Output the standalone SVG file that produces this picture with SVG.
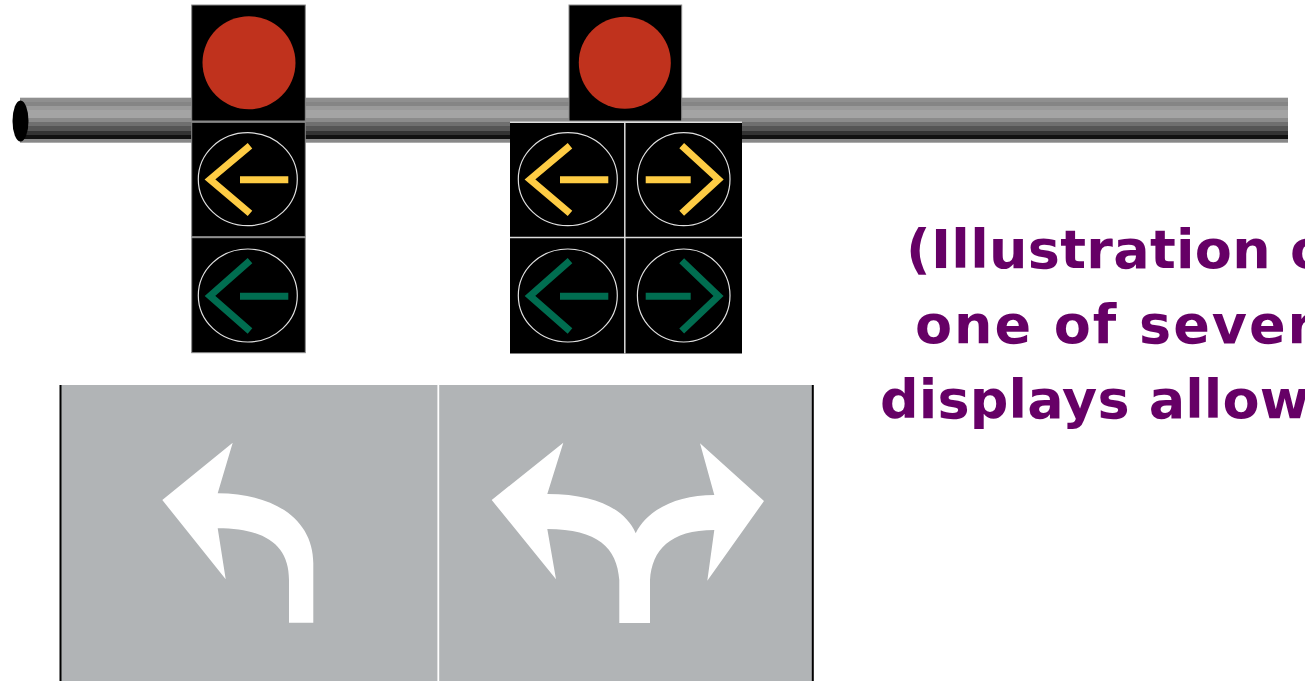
<svg xmlns="http://www.w3.org/2000/svg" width="1305" height="681" viewBox="0 0 1305 681">
  <style>
    .box { fill: #000; stroke: #8a8a8a; stroke-width: 1; }
    .red { fill: #c0321d; }
    .lens { fill: none; stroke: #e0e0e0; stroke-width: 1.2; }
    .chev { fill: none; stroke-width: 7; stroke-linecap: butt; stroke-linejoin: miter; }
    .bar { stroke-width: 7; stroke-linecap: butt; }
    .yel { stroke: #fecc44; }
    .grn { stroke: #006d50; }
    .sep { stroke: #dcdcdc; stroke-width: 1.5; }
    .lane { fill: #b1b4b6; }
    .mark { fill: #fff; }
    .note { font-family: "Comic Sans MS", "DejaVu Sans", sans-serif; font-weight: bold; font-size: 54px; fill: #660066; }
  </style>
  <defs>
    <linearGradient id="poleShade" x1="0" y1="0" x2="0" y2="1">
      <stop offset="0" stop-color="#8f8f8f"/>
      <stop offset="0.09" stop-color="#8f8f8f"/>
      <stop offset="0.09" stop-color="#858585"/>
      <stop offset="0.18" stop-color="#858585"/>
      <stop offset="0.18" stop-color="#9a9a9a"/>
      <stop offset="0.27" stop-color="#9a9a9a"/>
      <stop offset="0.27" stop-color="#a4a4a4"/>
      <stop offset="0.46" stop-color="#a4a4a4"/>
      <stop offset="0.46" stop-color="#8b8b8b"/>
      <stop offset="0.55" stop-color="#8b8b8b"/>
      <stop offset="0.55" stop-color="#6f6f6f"/>
      <stop offset="0.64" stop-color="#6f6f6f"/>
      <stop offset="0.64" stop-color="#555"/>
      <stop offset="0.73" stop-color="#555"/>
      <stop offset="0.73" stop-color="#333"/>
      <stop offset="0.83" stop-color="#333"/>
      <stop offset="0.83" stop-color="#111"/>
      <stop offset="0.92" stop-color="#111"/>
      <stop offset="0.92" stop-color="#888"/>
      <stop offset="1" stop-color="#888"/>
    </linearGradient>
  </defs>

  <!-- mast arm -->
  <g id="mast-arm">
    <rect x="20" y="97.7" width="1268" height="45" fill="url(#poleShade)"/>
    <ellipse cx="20.5" cy="121" rx="8" ry="20.5" fill="#000"/>
  </g>

  <!-- left-turn signal head -->
  <g id="signal-left">
    <rect class="box" x="191.7" y="5" width="113.6" height="116"/>
    <circle class="red" cx="249" cy="62.7" r="46.5"/>
    <rect class="box" x="191.7" y="122.3" width="113.6" height="114.4"/>
    <ellipse class="lens" cx="247.8" cy="179.2" rx="49.5" ry="46.5"/>
    <polyline class="chev yel" points="250,145.7 210,179.4 250,213.3"/>
    <line class="bar yel" x1="240" y1="179.7" x2="288.3" y2="179.7"/>
    <rect class="box" x="191.7" y="237.7" width="113.6" height="115"/>
    <ellipse class="lens" cx="247.8" cy="295.5" rx="49.5" ry="46.5"/>
    <polyline class="chev grn" points="250,260.7 210,296 250,331"/>
    <line class="bar grn" x1="240" y1="296.3" x2="288.3" y2="296.3"/>
  </g>

  <!-- left/right-turn signal head -->
  <g id="signal-right">
    <rect class="box" x="569" y="5" width="112.7" height="116"/>
    <circle class="red" cx="624.8" cy="62.7" r="46"/>
    <rect x="510" y="122" width="232" height="231.5" fill="#000"/>
    <line class="sep" x1="510" y1="122.3" x2="742" y2="122.3"/>
    <line class="sep" x1="624.8" y1="122" x2="624.8" y2="353.5"/>
    <line class="sep" x1="510" y1="237.5" x2="742" y2="237.5"/>
    <ellipse class="lens" cx="567.8" cy="179.2" rx="49.5" ry="46.5"/>
    <polyline class="chev yel" points="570,145.7 530,179.4 570,213.3"/>
    <line class="bar yel" x1="560" y1="179.7" x2="608.3" y2="179.7"/>
    <ellipse class="lens" cx="683.7" cy="179.2" rx="46.3" ry="46.5"/>
    <polyline class="chev yel" points="681.7,145.7 718.5,179.4 681.7,213.3"/>
    <line class="bar yel" x1="645.7" y1="179.7" x2="690.7" y2="179.7"/>
    <ellipse class="lens" cx="567.8" cy="295.5" rx="49.5" ry="46.5"/>
    <polyline class="chev grn" points="570,260.7 530,296 570,331"/>
    <line class="bar grn" x1="560" y1="296.3" x2="608.3" y2="296.3"/>
    <ellipse class="lens" cx="683.7" cy="295.5" rx="46.3" ry="46.5"/>
    <polyline class="chev grn" points="681.7,260.7 718.5,296 681.7,331"/>
    <line class="bar grn" x1="645.7" y1="296.3" x2="690.7" y2="296.3"/>
  </g>

  <!-- lanes with pavement markings -->
  <g id="lanes">
    <rect class="lane" x="61" y="385" width="752" height="296"/>
    <line x1="60.5" y1="385" x2="60.5" y2="681" stroke="#000" stroke-width="2"/>
    <line x1="438.3" y1="385" x2="438.3" y2="681" stroke="#fff" stroke-width="1.8"/>
    <line x1="812.8" y1="385" x2="812.8" y2="681" stroke="#000" stroke-width="2"/>
  </g>
  <g id="lane-left-arrow">
    <path class="mark" d="M 313.3,622.7 L 313.3,563.3 C 313.3,520 275,493.3 217.7,493.3 L 232.7,442.7 L 162.3,500 L 225.7,579.3 L 217.7,528.3 C 265,528.3 289,545 289,580 L 289,622.7 Z"/>
  </g>
  <g id="lane-right-arrow">
    <path class="mark" d="M 619.3,623 L 619.3,580 C 617,548 598,529 547.3,529 L 556,579.3 L 491.7,500 L 563.3,442.7 L 547.3,494 C 597,494 626,510 635.7,533.3 C 647,510 676,495 714.3,495 L 700,443.3 L 764,501 L 707.3,580.7 L 714.3,530 C 670,530 652,550 650,580 L 650,623 Z"/>
  </g>

  <!-- caption -->
  <g id="caption">
    <text class="note" x="906" y="268" textLength="445">(Illustration of</text>
    <text class="note" x="915" y="343" textLength="458">one of several</text>
    <text class="note" x="880" y="418" textLength="530">displays allowed)</text>
  </g>
</svg>
